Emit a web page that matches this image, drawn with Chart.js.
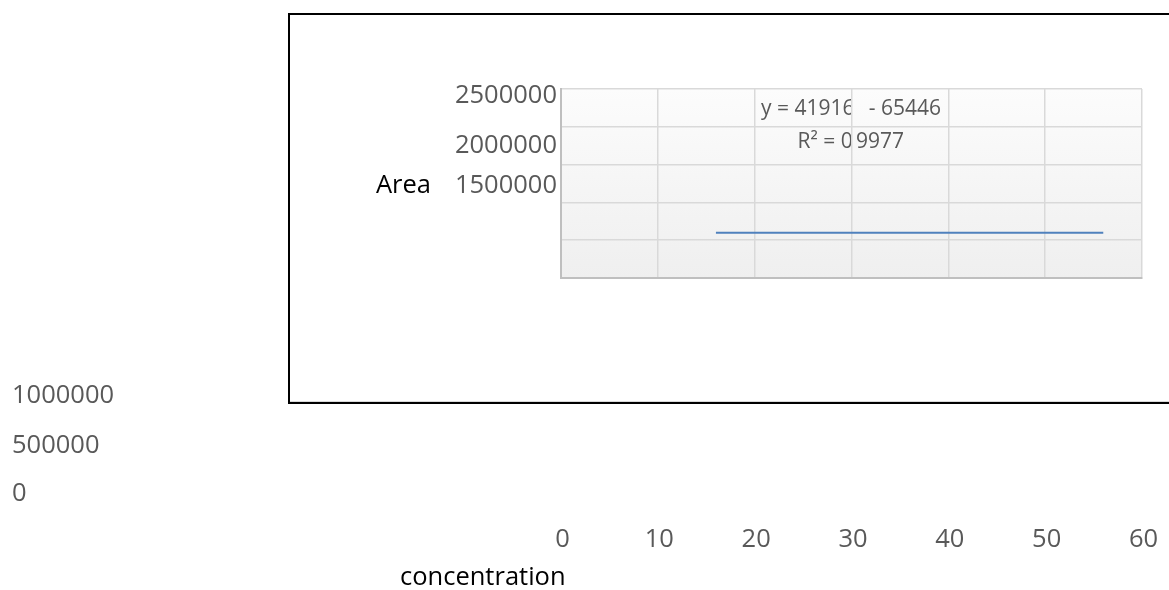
<!DOCTYPE html>
<html>
<head>
<meta charset="utf-8">
<script src="https://cdn.jsdelivr.net/npm/chart.js@4/dist/chart.umd.min.js"></script>
<style>
  html, body { margin: 0; padding: 0; background: #fff; }
  #c { display: block; }
</style>
</head>
<body>
<canvas id="c" width="1169" height="590"></canvas>
<script>
// Calibration data: concentration vs. peak area (trend segment)
const concentration = [16, 56];
const area = [600000, 600000];

// Axis ranges and tick steps
const xRange = [0, 60];
const xStep = 10;
const yRange = [0, 2500000];
const yStep = 500000;

// Trendline statistics
const slope = 41916;
const intercept = 65446;
const rSquared = '0.9977';

const xTitle = 'concentration';
const yTitle = 'Area';

const FONT = '"Open Sans", sans-serif';
const TICK_COLOR = '#595959';

// Background, outer frame and trendline label (drawn under the grid)
const backdrop = {
  id: 'backdrop',
  beforeDraw(chart) {
    const { ctx, chartArea: a } = chart;
    ctx.save();
    ctx.fillStyle = '#ffffff';
    ctx.fillRect(0, 0, chart.width, chart.height);

    // outer chart frame (open on the right)
    ctx.strokeStyle = '#d9d9d9';
    ctx.lineWidth = 1;
    ctx.beginPath();
    ctx.moveTo(290, 401.5); ctx.lineTo(1175, 401.5);
    ctx.stroke();
    ctx.strokeStyle = '#000000';
    ctx.lineWidth = 2;
    ctx.beginPath();
    ctx.moveTo(1175, 14); ctx.lineTo(289, 14); ctx.lineTo(289, 403); ctx.lineTo(1175, 403);
    ctx.stroke();

    // plot area fill
    const g = ctx.createLinearGradient(0, a.top, 0, a.bottom);
    g.addColorStop(0, '#fcfcfc');
    g.addColorStop(1, '#efefef');
    ctx.fillStyle = g;
    ctx.fillRect(a.left, a.top, a.right - a.left, a.bottom - a.top);

    // trendline equation and R² (split around the grid line)
    const xs = chart.scales.x;
    const cut = xs.getPixelForValue(30);
    ctx.fillStyle = TICK_COLOR;
    ctx.font = '21px ' + FONT;
    ctx.textBaseline = 'alphabetic';

    ctx.save();
    ctx.beginPath(); ctx.rect(0, 0, cut, chart.height); ctx.clip();
    ctx.textAlign = 'left';
    ctx.fillText('y = ' + slope, 761, 115);
    ctx.fillText('R² = ' + rSquared.split('.')[0], 797.5, 147.5);
    ctx.restore();

    ctx.textAlign = 'right';
    ctx.fillText('- ' + intercept, 941, 115);
    ctx.textAlign = 'left';
    ctx.fillText(rSquared.split('.')[1], 856, 147.5);
    ctx.restore();
  }
};

// Tick labels and axis titles
const labels = {
  id: 'labels',
  afterDraw(chart) {
    const { ctx } = chart;
    const xs = chart.scales.x;
    const ys = chart.scales.y;
    ctx.save();
    ctx.font = '25.5px ' + FONT;
    ctx.textBaseline = 'alphabetic';
    ctx.fillStyle = TICK_COLOR;

    // value axis labels, top to bottom
    const yTicks = ys.ticks.map(t => String(t.value)).reverse();
    const nearBase = [103, 153, 193];
    const farBase = [403, 453, 501];
    yTicks.forEach((txt, i) => {
      if (i < 3) {
        ctx.textAlign = 'right';
        ctx.fillText(txt, 557, nearBase[i]);
      } else {
        ctx.textAlign = 'left';
        ctx.fillText(txt, 12, farBase[i - 3]);
      }
    });

    // category axis labels
    ctx.textAlign = 'center';
    xs.ticks.forEach(t => {
      ctx.fillText(String(t.value), xs.getPixelForValue(t.value) + 1.5, 547);
    });

    // axis titles
    ctx.fillStyle = '#000000';
    ctx.textAlign = 'left';
    ctx.fillText(yTitle, 376, 193);
    ctx.fillText(xTitle, 400, 585);
    ctx.restore();
  }
};

new Chart(document.getElementById('c'), {
  type: 'line',
  data: {
    datasets: [{
      data: concentration.map((x, i) => ({ x, y: area[i] })),
      borderColor: '#4f81bd',
      borderWidth: 2,
      pointRadius: 0,
      fill: false,
      tension: 0
    }]
  },
  options: {
    responsive: false,
    animation: false,
    devicePixelRatio: 1,
    layout: { padding: { left: 561, top: 89, right: 27, bottom: 312 } },
    plugins: { legend: { display: false }, tooltip: { enabled: false } },
    scales: {
      x: {
        type: 'linear',
        min: xRange[0], max: xRange[1],
        ticks: { stepSize: xStep, display: false },
        grid: { color: '#d9d9d9', lineWidth: 1.5, drawTicks: false },
        border: { color: '#bfbfbf', width: 2 }
      },
      y: {
        type: 'linear',
        min: yRange[0], max: yRange[1],
        ticks: { stepSize: yStep, display: false },
        grid: { color: '#d9d9d9', lineWidth: 1.5, drawTicks: false },
        border: { color: '#bfbfbf', width: 2 }
      }
    }
  },
  plugins: [backdrop, labels]
});
</script>
</body>
</html>
